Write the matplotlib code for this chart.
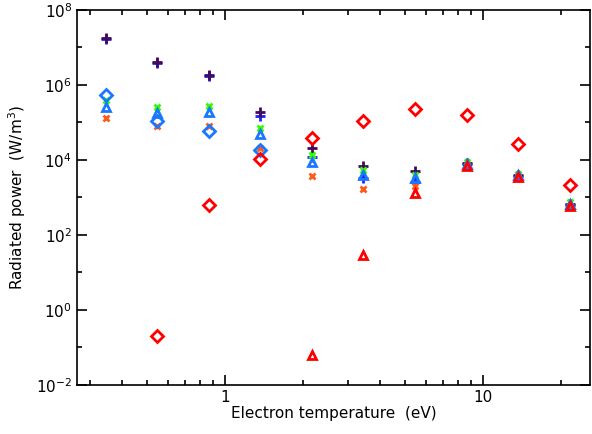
import numpy as np
import matplotlib
matplotlib.use("Agg")
import matplotlib.pyplot as plt
from matplotlib.ticker import FixedLocator, NullFormatter

# --- data (W/m^3 vs eV) ---
temp = [0.345, 0.545, 0.865, 1.37, 2.17, 3.44, 5.45, 8.64, 13.7, 21.7]
nan = np.nan

plus_blue = [1.7e7, 3.8e6, 1.7e6, 1.5e5, 1.2e4, 3.3e3, 2.6e3, 7.6e3, 3.8e3, 640]
plus_purple = [1.8e7, 4.0e6, 1.9e6, 1.9e5, 2.1e4, 6.9e3, 5.2e3, 8.2e3, 4.0e3, 680]
cross_green = [4.0e5, 2.6e5, 2.8e5, 7.0e4, 1.35e4, 5.4e3, 4.0e3, 8.8e3, 4.3e3, 780]
cross_orange = [1.3e5, 8.0e4, 8.0e4, 2.1e4, 3.7e3, 1.7e3, 2.0e3, 7.3e3, 3.7e3, 600]
tri_blue = [2.6e5, 1.8e5, 1.9e5, 4.9e4, 8.9e3, 4.0e3, 3.3e3, 7.8e3, 3.9e3, 660]
dia_blue = [5.4e5, 1.1e5, 5.9e4, 1.85e4, nan, nan, nan, nan, nan, nan]
dia_red = [nan, 0.2, 630, 1.07e4, 3.9e4, 1.1e5, 2.3e5, 1.6e5, 2.7e4, 2.2e3]
tri_red = [nan, nan, nan, nan, 0.063, 29, 1.3e3, 7.0e3, 3.6e3, 580]

fig = plt.figure(figsize=(5.92, 4.34), dpi=100)
ax = fig.add_axes([0.130, 0.113, 0.867, 0.864])

ax.plot(temp, plus_blue, ls='none', marker='+', ms=6.5, mew=2, color='#1f1fff')
ax.plot(temp, plus_purple, ls='none', marker='+', ms=6.5, mew=2, color='#420a5a')
ax.plot(temp, cross_green, ls='none', marker='x', ms=5, mew=2, color='#33ff00')
ax.plot(temp, cross_orange, ls='none', marker='x', ms=5, mew=2, color='#ff5a1a')
ax.plot(temp, tri_blue, ls='none', marker='^', ms=5.5, mew=2, mfc='none', color='#1a78ff')
ax.plot(temp, dia_blue, ls='none', marker='D', ms=6, mew=2, mfc='none', color='#1a78ff')
ax.plot(temp, dia_red, ls='none', marker='D', ms=6, mew=2, mfc='none', color='#ff0000')
ax.plot(temp, tri_red, ls='none', marker='^', ms=5.5, mew=2, mfc='none', color='#ff0000')

ax.set_xscale('log')
ax.set_yscale('log')
ax.set_xlim(0.267, 26.0)
ax.set_ylim(1e-2, 1e8)

ax.xaxis.set_major_locator(FixedLocator([1, 10]))
ax.set_xticklabels(['1', '10'])
ax.xaxis.set_minor_locator(FixedLocator([0.3, 0.4, 0.5, 0.6, 0.7, 0.8, 0.9,
                                         2, 3, 4, 5, 6, 7, 8, 9, 20]))
ax.xaxis.set_minor_formatter(NullFormatter())

ax.yaxis.set_major_locator(FixedLocator([1e-2, 1e0, 1e2, 1e4, 1e6, 1e8]))
ax.set_yticklabels([r'$10^{-2}$', r'$10^{0}$', r'$10^{2}$', r'$10^{4}$',
                    r'$10^{6}$', r'$10^{8}$'])
ax.yaxis.set_minor_locator(FixedLocator([1e-1, 1e1, 1e3, 1e5, 1e7]))
ax.yaxis.set_minor_formatter(NullFormatter())

ax.tick_params(which='both', direction='in', top=True, right=True, labelsize=11)
ax.tick_params(which='major', length=7, width=1.2)
ax.tick_params(which='minor', length=3.5, width=1.2)
for s in ax.spines.values():
    s.set_linewidth(1.2)

ax.set_xlabel('Electron temperature  (eV)', fontsize=11, labelpad=1)
ax.set_ylabel(r'Radiated power  (W/m$^3$)', fontsize=11, labelpad=6)

fig.savefig('out.png', dpi=100)
